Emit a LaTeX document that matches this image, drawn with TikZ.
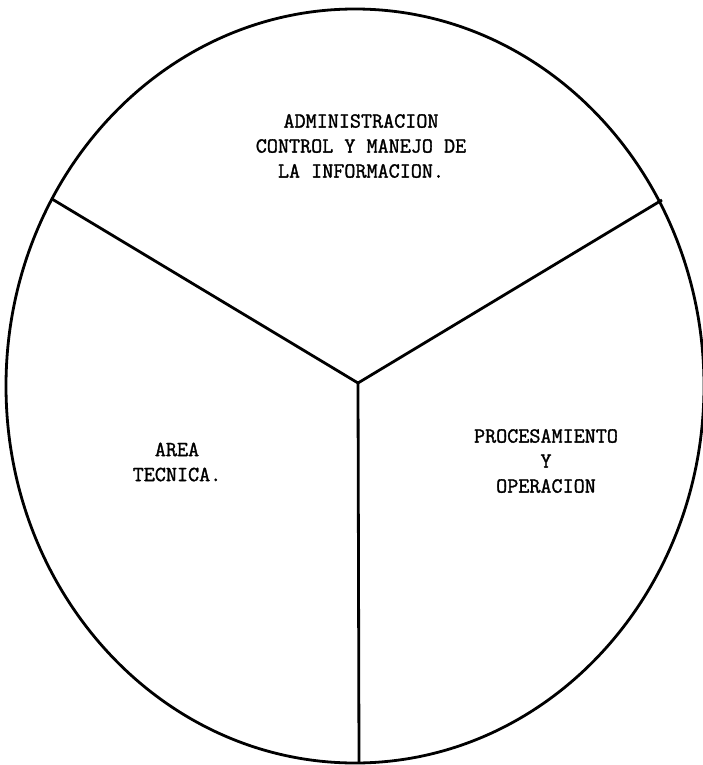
\documentclass[tikz,border=0pt]{standalone}
\usepackage{fontspec}
\newfontfamily\typew{Latin Modern Mono}[FakeBold=1.5]
\begin{document}
\begin{tikzpicture}[x=1pt,y=-1pt,
  rim/.style={line width=2.8pt,black},
  lbl/.style={font=\typew\fontsize{21.5}{25}\selectfont,align=center,inner sep=0pt}]
\useasboundingbox (0,0) rectangle (703,765);
\draw[rim] (355,386) ellipse [x radius=349, y radius=377];
\coordinate (c) at (358,383);
\coordinate (l) at (52,199);
\coordinate (r) at (662,200);
\coordinate (b) at (359,763);
\draw[rim] (l) -- (c) -- (r);
\draw[rim] (c) -- (b);
\node[lbl] (top) at (361,146) {ADMINISTRACION\\CONTROL Y MANEJO DE\\LA INFORMACION.};
\node[lbl] (left) at (177,462) {AREA\\TECNICA.};
\node[lbl] (right) at (546,461) {PROCESAMIENTO\\Y\\OPERACION};
\end{tikzpicture}
\end{document}
